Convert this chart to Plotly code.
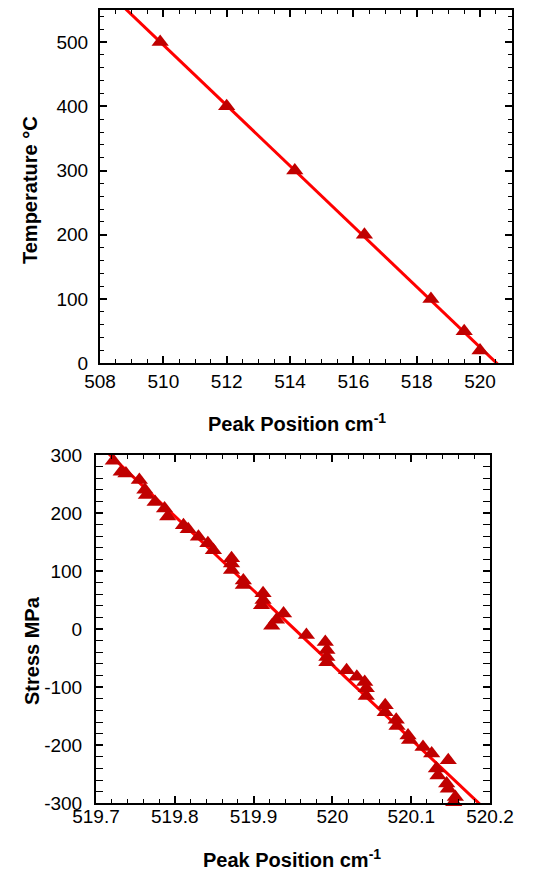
import numpy as np
import plotly.graph_objects as go

# ---- data: top panel (temperature calibration) ----
temp_peak = [509.9, 512.0, 514.15, 516.35, 518.45, 519.5, 520.0]
temp_c = [500, 400, 300, 200, 100, 50, 20]

# ---- data: bottom panel (stress calibration) ----
stress_peak = [519.722, 519.732, 519.738, 519.755, 519.762, 519.764, 519.775, 519.787, 519.791,
               519.811, 519.817, 519.830, 519.842, 519.849, 519.872, 519.872, 519.872, 519.887,
               519.887, 519.912, 519.912, 519.910, 519.938, 519.929, 519.923, 519.967, 519.991,
               519.993, 519.993, 519.993, 520.018, 520.031, 520.041, 520.043, 520.043, 520.067,
               520.067, 520.081, 520.082, 520.096, 520.098, 520.115, 520.126, 520.147, 520.132,
               520.134, 520.145, 520.147, 520.156, 520.154]
stress_mpa = [290, 271, 268, 257, 240, 231, 219, 208, 194,
              179, 172, 159, 148, 136, 122, 113, 102, 84,
              76, 62, 50, 41, 27, 16, 6, -10, -22,
              -36, -48, -57, -71, -82, -91, -102, -115, -131,
              -143, -156, -167, -183, -191, -203, -214, -226, -240,
              -252, -266, -275, -289, -298]

# ---- tick labels ----
top_x_ticks = [508, 510, 512, 514, 516, 518, 520]
top_y_ticks = [0, 100, 200, 300, 400, 500]
bot_x_ticks = [519.7, 519.8, 519.9, 520.0, 520.1, 520.2]
bot_x_labels = ["519.7", "519.8", "519.9", "520", "520.1", "520.2"]
bot_y_ticks = [-300, -200, -100, 0, 100, 200, 300]
bot_y_labels = ["-300", "-200", "-100", "0", "100", "200", "300"]

MARKER = "#C00000"
LINE = "#FF0000"
FONT = "Liberation Sans, Arial, sans-serif"

# page geometry (browser body has an 8px margin)
OFF = 8
W, H = 526, 865


def px(x):
    return (x - OFF) / W


def py(y):
    return 1 - (y - OFF) / H


# linear fits
p_top = np.polyfit(temp_peak, temp_c, 1)
p_bot = np.polyfit(stress_peak, stress_mpa, 1)
fx_top = np.array([507.0, 522.0])
fx_bot = np.array([519.6, 520.3])

fig = go.Figure()
fig.add_trace(go.Scatter(x=fx_top, y=np.polyval(p_top, fx_top), mode="lines",
                         line=dict(color=LINE, width=3), xaxis="x", yaxis="y", showlegend=False))
fig.add_trace(go.Scatter(x=temp_peak, y=temp_c, mode="markers",
                         marker=dict(symbol="triangle-up", size=15, color=MARKER),
                         xaxis="x", yaxis="y", showlegend=False, cliponaxis=False))
fig.add_trace(go.Scatter(x=fx_bot, y=np.polyval(p_bot, fx_bot), mode="lines",
                         line=dict(color=LINE, width=3), xaxis="x2", yaxis="y2", showlegend=False))
fig.add_trace(go.Scatter(x=stress_peak, y=stress_mpa, mode="markers",
                         marker=dict(symbol="triangle-up", size=15, color=MARKER),
                         xaxis="x2", yaxis="y2", showlegend=False, cliponaxis=False))
# empty trace bound to the label-only axis of the lower panel
fig.add_trace(go.Scatter(x=[], y=[], mode="markers", xaxis="x3", yaxis="y2",
                         showlegend=False, hoverinfo="skip"))

ax_common = dict(showgrid=False, zeroline=False, showline=True, linecolor="black", linewidth=2,
                 mirror="allticks", ticks="inside", ticklen=7, tickwidth=1.5, tickcolor="black",
                 automargin=False,
                 tickfont=dict(family=FONT, size=19, color="black"))

fig.update_layout(
    template="none",
    width=W, height=H,
    margin=dict(l=0, r=0, t=0, b=0),
    paper_bgcolor="white", plot_bgcolor="white",
    xaxis=dict(domain=[px(100), px(511.7)], anchor="y", range=[508, 521],
               tickvals=top_x_ticks, ticklabelstandoff=0,
               minor=dict(dtick=0.5, ticks="inside", ticklen=4, tickcolor="black", tickwidth=1),
               **ax_common),
    yaxis=dict(domain=[py(363.3), py(10)], anchor="x", range=[0, 550],
               tickvals=top_y_ticks, ticklabelstandoff=6,
               minor=dict(dtick=20, ticks="inside", ticklen=4, tickcolor="black", tickwidth=1),
               **ax_common),
    xaxis2=dict(domain=[px(96), px(490)], anchor="y2", range=[519.7, 520.2],
                tickvals=bot_x_ticks, showticklabels=False,
                minor=dict(dtick=0.02, ticks="inside", ticklen=4, tickcolor="black", tickwidth=1),
                **ax_common),
    xaxis3=dict(domain=[px(96), px(490)], overlaying="x2", anchor="free", position=py(802.5),
                range=[519.7, 520.2], side="bottom", tickvals=bot_x_ticks, ticktext=bot_x_labels,
                showline=False, ticks="", showgrid=False, zeroline=False, automargin=False,
                ticklabelstandoff=0, tickfont=dict(family=FONT, size=19, color="black")),
    yaxis2=dict(domain=[py(803.3), py(455)], anchor="x2", range=[-300, 300],
                tickvals=bot_y_ticks, ticktext=bot_y_labels, ticklabelstandoff=8,
                minor=dict(dtick=20, ticks="inside", ticklen=4, tickcolor="black", tickwidth=1),
                **ax_common),
    annotations=[
        dict(text="<b>Peak Position cm<sup>-1</sup></b>", x=px(297), y=py(422),
             xref="paper", yref="paper", showarrow=False, xanchor="center", yanchor="middle",
             font=dict(family=FONT, size=20, color="black")),
        dict(text="<b>Temperature °C</b>", x=px(30), y=py(190), textangle=-90,
             xref="paper", yref="paper", showarrow=False, xanchor="center", yanchor="middle",
             font=dict(family=FONT, size=20, color="black")),
        dict(text="<b>Peak Position cm<sup>-1</sup></b>", x=px(292), y=py(858),
             xref="paper", yref="paper", showarrow=False, xanchor="center", yanchor="middle",
             font=dict(family=FONT, size=20, color="black")),
        dict(text="<b>Stress MPa</b>", x=px(32), y=py(651), textangle=-90,
             xref="paper", yref="paper", showarrow=False, xanchor="center", yanchor="middle",
             font=dict(family=FONT, size=20, color="black")),
    ],
)

fig.write_html("out.html")
